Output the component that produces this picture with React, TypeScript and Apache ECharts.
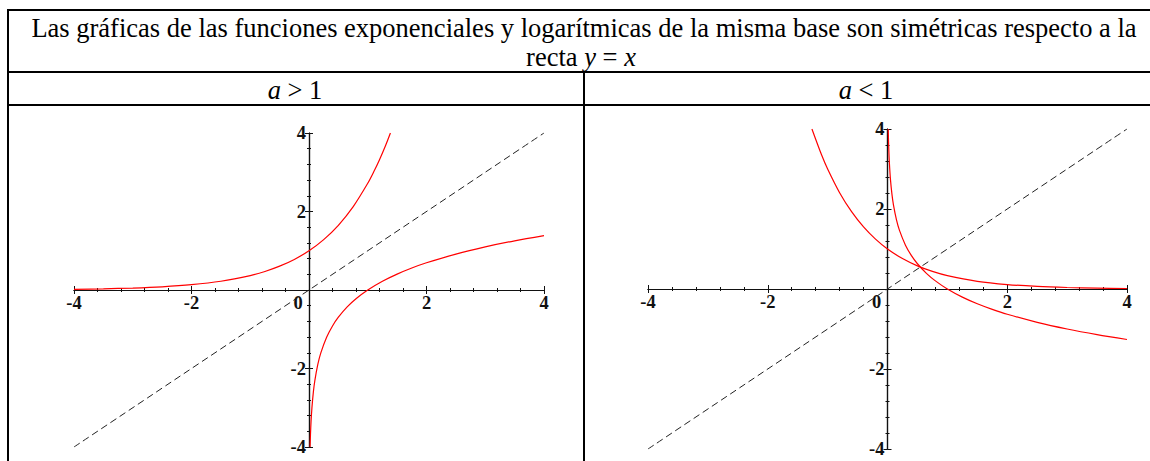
import React, { useEffect, useRef } from "react";
import * as echarts from "echarts";

const titleLine1 =
  "Las gráficas de las funciones exponenciales y logarítmicas de la misma base son simétricas respecto a la";
const headerLeft = "> 1";
const headerRight = "< 1";
const tickValues = [-4, -2, 0, 2, 4];

// a > 1 (a = e)
const expUp: number[][] = [
  [-4, 0.018], [-3.5, 0.03], [-3, 0.05], [-2.5, 0.082], [-2, 0.135], [-1.5, 0.223],
  [-1, 0.368], [-0.75, 0.472], [-0.5, 0.607], [-0.25, 0.779], [0, 1], [0.25, 1.284],
  [0.5, 1.649], [0.75, 2.117], [1, 2.718], [1.1, 3.004], [1.2, 3.32], [1.3, 3.669], [1.386, 4],
];
const logUp: number[][] = [
  [0.0183, -4], [0.025, -3.689], [0.035, -3.352], [0.05, -2.996], [0.075, -2.59], [0.1, -2.303],
  [0.15, -1.897], [0.2, -1.609], [0.3, -1.204], [0.4, -0.916], [0.5, -0.693], [0.65, -0.431],
  [0.8, -0.223], [1, 0], [1.25, 0.223], [1.5, 0.405], [1.75, 0.56], [2, 0.693], [2.5, 0.916],
  [3, 1.099], [3.5, 1.253], [4, 1.386],
];
// a < 1 (a = 1/3)
const expDown: number[][] = [
  [-1.262, 4], [-1.1, 3.348], [-1, 3], [-0.8, 2.408], [-0.6, 1.933], [-0.4, 1.552],
  [-0.2, 1.246], [0, 1], [0.25, 0.76], [0.5, 0.577], [0.75, 0.439], [1, 0.333], [1.5, 0.192],
  [2, 0.111], [2.5, 0.064], [3, 0.037], [3.5, 0.021], [4, 0.012],
];
const logDown: number[][] = [
  [0.0123, 4], [0.015, 3.823], [0.02, 3.561], [0.03, 3.192], [0.05, 2.727], [0.075, 2.358],
  [0.1, 2.096], [0.15, 1.727], [0.2, 1.465], [0.3, 1.096], [0.4, 0.834], [0.5, 0.631],
  [0.65, 0.392], [0.8, 0.203], [1, 0], [1.25, -0.203], [1.5, -0.369], [1.75, -0.509],
  [2, -0.631], [2.5, -0.834], [3, -1], [3.5, -1.14], [4, -1.262],
];
const diagonal: number[][] = [[-4, -4], [4, 4]];

const FONT = "'Liberation Serif', 'Times New Roman', serif";
const TICK_FONT = 18.5;

const grids = [
  { left: 74, top: 133, width: 470, height: 314 },
  { left: 648, top: 129, width: 479, height: 320 },
];

function makeX(gridIndex: number, main: boolean) {
  const g = grids[gridIndex];
  return {
    type: "value",
    gridIndex,
    min: tickValues[0],
    max: tickValues[tickValues.length - 1],
    interval: 2,
    position: "bottom",
    offset: -g.height / 2,
    axisLine: { show: true, onZero: false, lineStyle: { color: "#111", width: 1.2 } },
    axisTick: { show: true, inside: !main, length: 4, lineStyle: { color: "#111" } },
    minorTick: { show: true, splitNumber: 5, length: 2, lineStyle: { color: "#111" } },
    splitLine: { show: false },
    axisLabel: main
      ? {
          show: true,
          margin: 3,
          fontFamily: FONT,
          fontSize: TICK_FONT,
          fontWeight: "bold",
          color: "#111",
          showMinLabel: true,
          showMaxLabel: true,
          formatter: (v: number) => (v === 0 ? "{z|0}" : String(v)),
          rich: {
            z: { fontFamily: FONT, fontSize: TICK_FONT, fontWeight: "bold", color: "#111", padding: [0, 22, 0, 0] },
          },
        }
      : { show: false },
  };
}

function makeY(gridIndex: number, main: boolean) {
  const g = grids[gridIndex];
  return {
    type: "value",
    gridIndex,
    min: tickValues[0],
    max: tickValues[tickValues.length - 1],
    interval: 2,
    position: "left",
    offset: -g.width / 2,
    axisLine: { show: true, onZero: false, lineStyle: { color: "#111", width: 1.2 } },
    axisTick: { show: true, inside: !main, length: 4, lineStyle: { color: "#111" } },
    minorTick: { show: true, splitNumber: 5, length: 2, lineStyle: { color: "#111" } },
    splitLine: { show: false },
    axisLabel: main
      ? {
          show: true,
          margin: 3,
          fontFamily: FONT,
          fontSize: TICK_FONT,
          fontWeight: "bold",
          color: "#111",
          showMinLabel: true,
          showMaxLabel: true,
          formatter: (v: number) => (v === 0 ? "" : String(v)),
        }
      : { show: false },
  };
}

function line(data: number[][], idx: number, color: string, dashed: boolean) {
  return {
    type: "line",
    xAxisIndex: idx,
    yAxisIndex: idx,
    data,
    showSymbol: false,
    symbol: "none",
    smooth: 0.3,
    clip: true,
    lineStyle: { color, width: dashed ? 1 : 1.2, type: dashed ? [7, 4] : "solid" },
    z: dashed ? 2 : 3,
  };
}

export default function App() {
  const ref = useRef<HTMLDivElement>(null);
  useEffect(() => {
    if (!ref.current) return;
    const chart = echarts.init(ref.current, undefined, { renderer: "svg" });
    const border = { stroke: "#000", lineWidth: 2 };
    const big = 26.5;
    const italic = { i: { fontFamily: FONT, fontSize: big, fontStyle: "italic", fill: "#000" } };
    chart.setOption({
      animation: false,
      backgroundColor: "#fff",
      grid: grids,
      xAxis: [makeX(0, true), makeX(0, false), makeX(1, true), makeX(1, false)],
      yAxis: [makeY(0, true), makeY(0, false), makeY(1, true), makeY(1, false)],
      series: [
        line(diagonal, 0, "#222", true),
        line(expUp, 0, "#ff0000", false),
        line(logUp, 0, "#ff0000", false),
        line(diagonal, 2, "#222", true),
        line(expDown, 2, "#ff0000", false),
        line(logDown, 2, "#ff0000", false),
      ],
      graphic: [
        { type: "line", shape: { x1: 7, y1: 10, x2: 1150, y2: 10 }, style: border },
        { type: "line", shape: { x1: 7, y1: 72, x2: 1150, y2: 72 }, style: border },
        { type: "line", shape: { x1: 7, y1: 105, x2: 1150, y2: 105 }, style: border },
        { type: "line", shape: { x1: 8, y1: 9, x2: 8, y2: 461 }, style: border },
        { type: "line", shape: { x1: 584, y1: 72, x2: 584, y2: 461 }, style: border },
        {
          type: "text",
          x: 584,
          y: 28,
          style: { text: titleLine1, fontFamily: FONT, fontSize: big, fill: "#000", align: "center", verticalAlign: "middle" },
        },
        {
          type: "text",
          x: 581,
          y: 57,
          style: {
            text: "recta {i|y} = {i|x}",
            fontFamily: FONT, fontSize: big, fill: "#000", align: "center", verticalAlign: "middle", rich: italic,
          },
        },
        {
          type: "text",
          x: 295,
          y: 90,
          style: {
            text: "{i|a} " + headerLeft,
            fontFamily: FONT, fontSize: big, fill: "#000", align: "center", verticalAlign: "middle", rich: italic,
          },
        },
        {
          type: "text",
          x: 866,
          y: 90,
          style: {
            text: "{i|a} " + headerRight,
            fontFamily: FONT, fontSize: big, fill: "#000", align: "center", verticalAlign: "middle", rich: italic,
          },
        },
      ],
    });
    return () => chart.dispose();
  }, []);
  return <div ref={ref} style={{ position: "absolute", left: 0, top: 0, width: 1150, height: 461 }} />;
}
